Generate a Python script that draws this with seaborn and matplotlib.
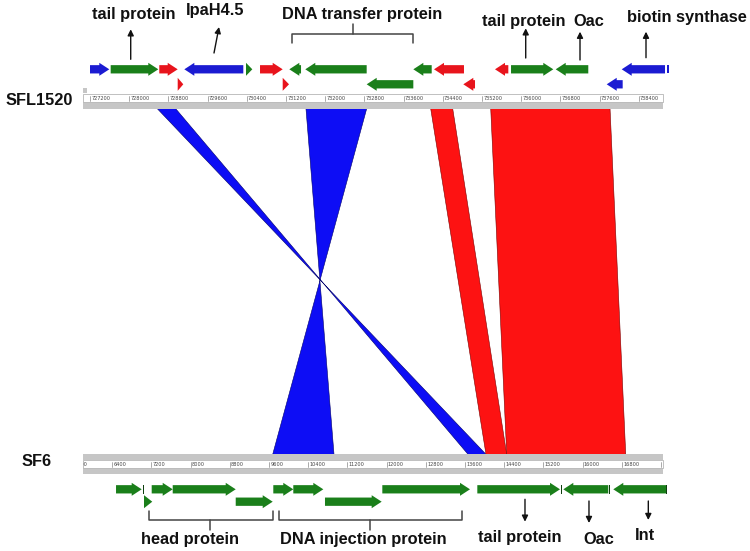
import numpy as np
import pandas as pd
import matplotlib
matplotlib.use("Agg")
import matplotlib.pyplot as plt
from matplotlib.patches import Polygon, Rectangle, FancyArrow
import seaborn as sns

#-------------------------------------------------------------------------------
#   data : genes, ruler ticks, similarity blocks
#-------------------------------------------------------------------------------

# SFL1520 genes (bp)
top_start = [727200, 727622, 728614, 728990, 729125, 730384, 730670, 731133, 731268, 731594,
             732847, 733799, 734221, 734819, 735466, 735793, 736705, 737746, 738052]
top_end = [727594, 728594, 728990, 729104, 730329, 730513, 731133, 731262, 731507, 732847,
           733799, 734174, 734833, 735058, 735738, 736656, 737370, 738072, 738936]
top_strand = [1, 1, 1, 1, -1, 1, 1, 1, -1, -1, -1, -1, -1, -1, -1, 1, -1, -1, -1]
top_colour = ["blue", "green", "red", "red", "blue", "green", "red", "red", "green", "green",
              "green", "green", "red", "red", "red", "green", "green", "blue", "blue"]
top_row = [1, 1, 1, 2, 1, 1, 1, 2, 1, 1, 2, 1, 1, 2, 1, 1, 1, 2, 1]
top_marks = [739000]
top_marks_colour = ["blue"]

# SF6 genes (bp)
bot_start = [6476, 7047, 7204, 7633, 8919, 9686, 10094, 10741, 11911, 13850, 15605, 16625]
bot_end = [7000, 7216, 7633, 8919, 9674, 10094, 10707, 11898, 13701, 15538, 16523, 17701]
bot_strand = [1, 1, 1, 1, 1, 1, 1, 1, 1, 1, -1, -1]
bot_row = [1, 2, 1, 1, 2, 1, 1, 2, 1, 1, 1, 1]
bot_marks = [7027, 15572, 16538, 17715]

# ruler tick labels
top_ticks = [727200, 728000, 728800, 729600, 730400, 731200, 732000, 732800,
             733600, 734400, 735200, 736000, 736800, 737600, 738400]
bot_ticks = [5600, 6400, 7200, 8000, 8800, 9600, 10400, 11200, 12000,
             12800, 13600, 14400, 15200, 16000, 16800, 17600]
top_range = [727063, 738889]
bot_range = [5796, 17634]

# similarity blocks (bottom start > end means inverted)
link_top_start = [728574, 731608, 734154, 735379]
link_top_end = [728949, 732847, 734603, 737814]
link_bot_start = [14027, 10925, 14027, 14450]
link_bot_end = [13660, 9674, 14450, 16879]
link_colour = ["blue", "blue", "red", "red"]

# annotations
top_labels = ["tail protein", "IpaH4.5", "DNA transfer protein", "tail protein", "Oac", "biotin synthase"]
top_label_x = [728098, 729745, 732752, 736058, 737385, 739386]
top_arrow_x = [728031, 729731, 736093, 737201, 738548]
top_arrow_tip_x = [728031, 729833, 736093, 737201, 738548]
top_bracket = [731317, 733799, 732574]

bot_labels = ["head protein", "DNA injection protein", "tail protein", "Oac", "Int"]
bot_label_x = [7986, 11517, 14722, 16334, 17273]
bot_arrow_x = [14823, 16129, 17340]
bot_brackets = [[7149, 9674, 8394], [9808, 13531, 11660]]

gene_col = {"green": "#1a7f1a", "red": "#e8141c", "blue": "#1b1bd2"}
link_col = {"blue": "#0d0df5", "red": "#fd1212"}

#-------------------------------------------------------------------------------
#   figure set up (y axis in image rows, x axis in bp for each genome)
#-------------------------------------------------------------------------------
sns.set_theme(style="white")
plt.rcParams["font.family"] = ["Liberation Sans", "DejaVu Sans"]

W, H = 750, 551
fig = plt.figure(figsize=(7.5, 5.51), dpi=100)
ax_link = fig.add_axes([0, 0, 1, 1])
ax_top = fig.add_axes([0, 0, 1, 1])
ax_bot = fig.add_axes([0, 0, 1, 1])
BP_PER_PX = 20.41
ax_top.set_xlim(727200 - 90 * BP_PER_PX, 727200 + (W - 90) * BP_PER_PX)
ax_bot.set_xlim(6400 - 112.3 * BP_PER_PX, 6400 + (W - 112.3) * BP_PER_PX)
for a in (ax_link, ax_top, ax_bot):
    a.set_ylim(H, 0)
    a.set_axis_off()
ax_link.set_xlim(0, W)

top_df = pd.DataFrame(dict(start=top_start, end=top_end, strand=top_strand,
                           colour=top_colour, row=top_row))
bot_df = pd.DataFrame(dict(start=bot_start, end=bot_end, strand=bot_strand, row=bot_row))
bot_df["colour"] = "green"

BODY, HEAD, HEAD_LEN = 8.3, 13, 10 * BP_PER_PX


def draw_genes(ax, df, row_y):
    for _, g in df.iterrows():
        length = g["end"] - g["start"]
        x0 = g["start"] if g["strand"] > 0 else g["end"]
        arr = FancyArrow(x0, row_y[g["row"]], g["strand"] * length, 0, width=BODY,
                         head_width=HEAD, head_length=min(HEAD_LEN, length),
                         length_includes_head=True, color=gene_col[g["colour"]], lw=0)
        ax.add_patch(arr)


def draw_ruler(ax, x_range, ticks, y_box, y_grey):
    ax.add_patch(Rectangle((x_range[0], y_grey[0]), x_range[1] - x_range[0], y_grey[1] - y_grey[0],
                           facecolor="#c6c6c6", lw=0))
    box = Rectangle((x_range[0], y_box[0]), x_range[1] - x_range[0], y_box[1] - y_box[0],
                    facecolor="white", edgecolor="#b5b5b5", lw=0.6)
    ax.add_patch(box)
    ymid = (y_box[0] + y_box[1]) / 2
    for t in ticks:
        ln, = ax.plot([t, t], [y_box[0] + 1.5, y_box[1] - 1.2], color="#888888", lw=0.5)
        ln.set_clip_path(box)
        txt = ax.text(t + 1.2 * BP_PER_PX, ymid + 0.3, str(t), fontsize=3.6, color="#444444",
                      va="center", ha="left", family="DejaVu Sans", clip_on=True)
        txt.set_clip_path(box)


#-------------------------------------------------------------------------------
#   similarity blocks
#-------------------------------------------------------------------------------
Y_LINK_TOP, Y_LINK_BOT = 108.7, 454.3


def to_px(ax, g):
    return ax_link.transData.inverted().transform(ax.transData.transform((g, 0)))[0]


for ts, te, bs, be, c in zip(link_top_start, link_top_end, link_bot_start, link_bot_end, link_colour):
    pts = [(to_px(ax_top, ts), Y_LINK_TOP), (to_px(ax_top, te), Y_LINK_TOP),
           (to_px(ax_bot, be), Y_LINK_BOT), (to_px(ax_bot, bs), Y_LINK_BOT)]
    ax_link.add_patch(Polygon(pts, closed=True, facecolor=link_col[c],
                              edgecolor="#7a0000" if c == "red" else "#00006a", lw=0.4))

#-------------------------------------------------------------------------------
#   SFL1520 track
#-------------------------------------------------------------------------------
draw_ruler(ax_top, top_range, top_ticks, (94, 102), (102, 108.7))
ax_top.add_patch(Rectangle((top_range[0], 88), 4 * BP_PER_PX, 4.5, facecolor="#c6c6c6", lw=0))
draw_genes(ax_top, top_df, {1: 69.3, 2: 84.3})
for m, c in zip(top_marks, top_marks_colour):
    ax_top.add_patch(Rectangle((m - 1.2 * BP_PER_PX, 65.2), 2.5 * BP_PER_PX, 8.3,
                               facecolor=gene_col[c], lw=0))

top_base = [19.2, 14.6, 19.2, 25.9, 25.9, 21.9]
for lab, x, yb in zip(top_labels, top_label_x, top_base):
    ax_top.text(x, yb, lab, fontsize=11.8, fontweight="bold", color="#111111",
                ha="center", va="baseline")

top_tail = [59.3, 53, 58, 60, 57.7]
top_tip = [29.3, 27, 28.3, 31.7, 31.7]
for x0, x1, y0, y1 in zip(top_arrow_x, top_arrow_tip_x, top_tail, top_tip):
    ax_top.annotate("", xy=(x1, y1), xytext=(x0, y0),
                    arrowprops=dict(arrowstyle="-|>", color="#111111", lw=1.0,
                                    mutation_scale=9, shrinkA=0, shrinkB=0))

bl, br, bc = top_bracket
ax_top.plot([bl, bl, br, br], [43.3, 34.3, 34.3, 43.3], color="#444444", lw=1.1)
ax_top.plot([bc, bc], [34.3, 24], color="#444444", lw=1.1)

fig.text(39 / W, 1 - 100 / H, "SFL1520", fontsize=11.8, fontweight="bold",
         ha="center", va="center", color="#111111")

#-------------------------------------------------------------------------------
#   SF6 track
#-------------------------------------------------------------------------------
ax_bot.add_patch(Rectangle((bot_range[0], 454.3), bot_range[1] - bot_range[0], 5.7,
                           facecolor="#c6c6c6", lw=0))
draw_ruler(ax_bot, bot_range, bot_ticks, (460, 468.3), (468.3, 474.3))
draw_genes(ax_bot, bot_df, {1: 489.3, 2: 501.7})
for m in bot_marks:
    ax_bot.add_patch(Rectangle((m - 0.5 * BP_PER_PX, 484.5), 1.3 * BP_PER_PX, 9.6,
                               facecolor="#0f3f0f", lw=0))

bot_base = [543.6, 543.6, 542.0, 544.0, 540.0]
for lab, x, yb in zip(bot_labels, bot_label_x, bot_base):
    ax_bot.text(x, yb, lab, fontsize=11.8, fontweight="bold", color="#111111",
                ha="center", va="baseline")

bot_tail = [499.3, 501, 501]
bot_tip = [521.7, 523, 520]
for x, y0, y1 in zip(bot_arrow_x, bot_tail, bot_tip):
    ax_bot.annotate("", xy=(x, y1), xytext=(x, y0),
                    arrowprops=dict(arrowstyle="-|>", color="#111111", lw=1.0,
                                    mutation_scale=9, shrinkA=0, shrinkB=0))

for bl, br, bc in bot_brackets:
    ax_bot.plot([bl, bl, br, br], [511, 520, 520, 511], color="#444444", lw=1.1)
    ax_bot.plot([bc, bc], [520, 530], color="#444444", lw=1.1)

fig.text(37 / W, 1 - 461 / H, "SF6", fontsize=11.8, fontweight="bold",
         ha="center", va="center", color="#111111")

fig.savefig("out.png", dpi=100)
